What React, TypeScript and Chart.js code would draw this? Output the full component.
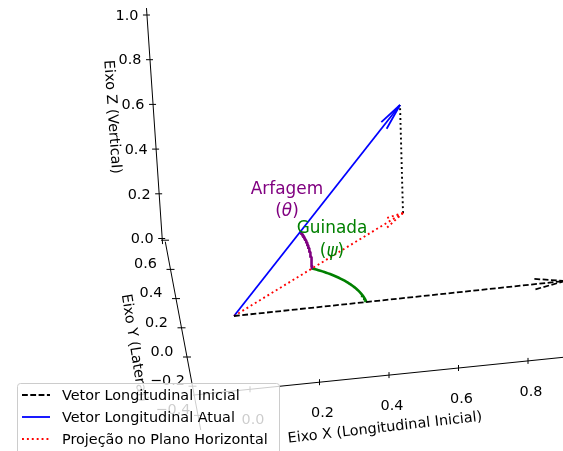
import React, { useEffect, useRef } from 'react';
import { Chart, registerables } from 'chart.js';

Chart.register(...registerables);

// ---------- values ----------
const PITCH_DEG = 30; // Arfagem (θ)
const YAW_DEG = 45; // Guinada (ψ)
const ORIGIN = [0, 0, 0];
const INITIAL_VECTOR = [1, 0, 0];
const ARC_RADIUS = 0.4;
const ARROW_LENGTH_RATIO = 0.1;

const SERIES_LABELS = ['Vetor Longitudinal Inicial', 'Vetor Longitudinal Atual', 'Projeção no Plano Horizontal'];
const ANGLE_NAMES = ['Arfagem', 'Guinada'];
const ANGLE_SYMBOLS = ['θ', 'ψ'];
const AXIS_TITLES = ['Eixo X (Longitudinal Inicial)', 'Eixo Y (Lateral)', 'Eixo Z (Vertical)'];

const X_TICKS = [0, 0.2, 0.4, 0.6, 0.8];
const X_TICK_LABELS = ['0.0', '0.2', '0.4', '0.6', '0.8'];
const Y_TICKS = [-0.4, -0.2, 0, 0.2, 0.4, 0.6, 0.8];
const Y_TICK_LABELS = ['−0.4', '−0.2', '0.0', '0.2', '0.4', '0.6', ''];
const Z_TICKS = [0, 0.2, 0.4, 0.6, 0.8, 1.0];
const Z_TICK_LABELS = ['0.0', '0.2', '0.4', '0.6', '0.8', '1.0'];

// ---------- layout (projection of the 3D scene onto the plane) ----------
const W = 563;
const H = 451;
const FONT = '"DejaVu Sans", "Liberation Sans", sans-serif';
const SMALL = 14.4;
const BIG = 16.9;
const VIEW = { o: [234, 316], ex: [331, -35], ey: [-55, -133.2], ez: [-6, -216] };
const AXES = [
  { o: [250, 389.3], d: [347.5, -35.5], span: [-0.164, 0.96], tick: [[0, -3], [0, 3]], label: [3, 31], ticks: X_TICKS, labels: X_TICK_LABELS,
    title: { c: [385, 428], rot: -6.5 } },
  { o: [187, 357], d: [-27.5, -146], span: [-0.5, 0.79], tick: [[-4, 0], [4, 0]], label: [-25, -5], ticks: Y_TICKS, labels: Y_TICK_LABELS,
    title: { c: [134, 348], rot: 81 } },
  { o: [162.2, 238.5], d: [-15.25, -223.5], span: [-0.025, 1.031], tick: [[-4, 0], [3, 0]], label: [-20, 1], ticks: Z_TICKS, labels: Z_TICK_LABELS,
    title: { c: [112, 117], rot: 86 } },
];
const ANNOTATIONS = [
  { c: [287, 189], gap: 23, color: '#800080' },
  { c: [332, 228], gap: 24, color: '#008000' },
];
const LEGEND = { x: 17.5, y: 383.5, w: 262, h: 80, sampleX: [22, 50], textX: 62, rows: [395, 417, 439], baselines: [400, 422, 444] };

function project(p: number[]) {
  return {
    x: VIEW.o[0] + p[0] * VIEW.ex[0] + p[1] * VIEW.ey[0] + p[2] * VIEW.ez[0],
    y: VIEW.o[1] + p[0] * VIEW.ex[1] + p[1] * VIEW.ey[1] + p[2] * VIEW.ez[1],
  };
}

const rad = (d: number) => (d * Math.PI) / 180;
const add = (a: number[], b: number[]) => [a[0] + b[0], a[1] + b[1], a[2] + b[2]];
const scale = (a: number[], s: number) => [a[0] * s, a[1] * s, a[2] * s];

// matplotlib-style quiver heads: rotate the shaft by ±15° around a horizontal axis
function arrowHeads(tail: number[], vec: number[]) {
  const tip = add(tail, vec);
  const n = Math.hypot(vec[0], vec[1]);
  const k = n ? [vec[1] / n, -vec[0] / n, 0] : [0, 1, 0];
  const heads: number[][][] = [];
  [1, -1].forEach((sg) => {
    const a = rad(15) * sg;
    const c = Math.cos(a), s = Math.sin(a);
    const cross = [k[1] * vec[2] - k[2] * vec[1], k[2] * vec[0] - k[0] * vec[2], k[0] * vec[1] - k[1] * vec[0]];
    const dot = k[0] * vec[0] + k[1] * vec[1] + k[2] * vec[2];
    const r = [0, 1, 2].map((i) => vec[i] * c + cross[i] * s + k[i] * dot * (1 - c));
    heads.push([tip, add(tip, scale(r, -ARROW_LENGTH_RATIO))]);
  });
  return heads;
}

export default function App() {
  const ref = useRef<HTMLCanvasElement | null>(null);

  useEffect(() => {
    const th = rad(PITCH_DEG);
    const ps = rad(YAW_DEG);
    const current = [Math.cos(th) * Math.cos(ps), Math.cos(th) * Math.sin(ps), Math.sin(th)];
    const horizontal = [current[0], current[1], 0];

    const yawArc: number[][] = [];
    const pitchArc: number[][] = [];
    const N = 40;
    for (let i = 0; i <= N; i++) {
      const t = (ps * i) / N;
      yawArc.push([ARC_RADIUS * Math.cos(t), ARC_RADIUS * Math.sin(t), 0]);
      const s = (th * i) / N;
      pitchArc.push([ARC_RADIUS * Math.cos(s) * Math.cos(ps), ARC_RADIUS * Math.cos(s) * Math.sin(ps), ARC_RADIUS * Math.sin(s)]);
    }

    const line = (pts: number[][], color: string, width: number, dash: number[] = []) => ({
      data: pts.map(project),
      showLine: true,
      borderColor: color,
      backgroundColor: color,
      borderWidth: width,
      borderDash: dash,
      borderCapStyle: 'butt',
      pointRadius: 0,
      tension: 0,
      fill: false,
    });

    const dashed = [5.8, 2.5];
    const dotted = [1.9, 3.0];
    const datasets: any[] = [];
    datasets.push(line([ORIGIN, add(ORIGIN, INITIAL_VECTOR)], '#000000', 1.8, dashed));
    arrowHeads(ORIGIN, INITIAL_VECTOR).forEach((h) => datasets.push(line(h, '#000000', 1.8, dashed)));
    datasets.push(line([ORIGIN, horizontal], '#ff0000', 1.9, dotted));
    arrowHeads(ORIGIN, horizontal).forEach((h) => datasets.push(line(h, '#ff0000', 1.9, dotted)));
    datasets.push(line([horizontal, current], '#000000', 1.9, dotted));
    datasets.push(line([ORIGIN, current], '#0000ff', 1.8));
    arrowHeads(ORIGIN, current).forEach((h) => datasets.push(line(h, '#0000ff', 1.8)));
    datasets.push(line(pitchArc, '#800080', 2.6));
    datasets.push(line(yawArc, '#008000', 2.6));

    const toPx = (chart: any, p: number[]) => ({
      x: chart.scales.x.getPixelForValue(p[0]),
      y: chart.scales.y.getPixelForValue(p[1]),
    });

    const axesPlugin = {
      id: 'axes3d',
      beforeDatasetsDraw(chart: any) {
        const ctx = chart.ctx;
        ctx.save();
        ctx.strokeStyle = '#000000';
        ctx.fillStyle = '#000000';
        ctx.lineWidth = 1;
        ctx.font = `${SMALL}px ${FONT}`;
        ctx.textAlign = 'center';
        ctx.textBaseline = 'middle';
        AXES.forEach((ax, ai) => {
          const at = (v: number) => [ax.o[0] + v * ax.d[0], ax.o[1] + v * ax.d[1]];
          const a = toPx(chart, at(ax.span[0]));
          const b = toPx(chart, at(ax.span[1]));
          ctx.beginPath();
          ctx.moveTo(a.x, a.y);
          ctx.lineTo(b.x, b.y);
          ctx.stroke();
          ax.ticks.forEach((v, i) => {
            const p = at(v);
            const t0 = toPx(chart, [p[0] + ax.tick[0][0], p[1] + ax.tick[0][1]]);
            const t1 = toPx(chart, [p[0] + ax.tick[1][0], p[1] + ax.tick[1][1]]);
            ctx.beginPath();
            ctx.moveTo(t0.x, t0.y);
            ctx.lineTo(t1.x, t1.y);
            ctx.stroke();
            const lp = toPx(chart, [p[0] + ax.label[0], p[1] + ax.label[1]]);
            if (ax.labels[i]) ctx.fillText(ax.labels[i], lp.x, lp.y);
          });
          const c = toPx(chart, ax.title.c);
          ctx.save();
          ctx.translate(c.x, c.y);
          ctx.rotate(rad(ax.title.rot));
          ctx.fillText(AXIS_TITLES[ai], 0, 0);
          ctx.restore();
        });
        ctx.restore();
      },
    };

    const textPlugin = {
      id: 'angleText',
      afterDatasetsDraw(chart: any) {
        const ctx = chart.ctx;
        ctx.save();
        ctx.textBaseline = 'middle';
        ANNOTATIONS.forEach((an, i) => {
          const c = toPx(chart, an.c);
          ctx.fillStyle = an.color;
          ctx.font = `${BIG}px ${FONT}`;
          ctx.textAlign = 'center';
          ctx.fillText(ANGLE_NAMES[i], c.x, c.y + 1);
          const y2 = c.y + an.gap;
          const regular = `${BIG}px ${FONT}`;
          const italic = `italic ${BIG}px ${FONT}`;
          ctx.font = regular;
          const wp = ctx.measureText('(').width;
          const wq = ctx.measureText(')').width;
          ctx.font = italic;
          const ws = ctx.measureText(ANGLE_SYMBOLS[i]).width;
          let x = c.x - (wp + ws + wq) / 2;
          ctx.textAlign = 'left';
          ctx.font = regular;
          ctx.fillText('(', x, y2);
          x += wp;
          ctx.font = italic;
          ctx.fillText(ANGLE_SYMBOLS[i], x, y2);
          x += ws;
          ctx.font = regular;
          ctx.fillText(')', x, y2);
        });
        ctx.restore();
      },
    };

    const legendStyles = [
      { color: '#000000', dash: dashed, width: 1.8 },
      { color: '#0000ff', dash: [], width: 1.8 },
      { color: '#ff0000', dash: dotted, width: 1.9 },
    ];

    const legendPlugin = {
      id: 'legendBox',
      afterDraw(chart: any) {
        const ctx = chart.ctx;
        ctx.save();
        ctx.beginPath();
        ctx.roundRect(LEGEND.x, LEGEND.y, LEGEND.w, LEGEND.h, 3);
        ctx.fillStyle = 'rgba(255,255,255,0.8)';
        ctx.fill();
        ctx.strokeStyle = '#cccccc';
        ctx.lineWidth = 1;
        ctx.stroke();
        ctx.font = `${SMALL}px ${FONT}`;
        ctx.textAlign = 'left';
        ctx.textBaseline = 'alphabetic';
        SERIES_LABELS.forEach((lab, i) => {
          const st = legendStyles[i];
          ctx.beginPath();
          ctx.setLineDash(st.dash);
          ctx.lineCap = 'butt';
          ctx.strokeStyle = st.color;
          ctx.lineWidth = st.width;
          ctx.moveTo(LEGEND.sampleX[0], LEGEND.rows[i]);
          ctx.lineTo(LEGEND.sampleX[1], LEGEND.rows[i]);
          ctx.stroke();
          ctx.setLineDash([]);
          ctx.fillStyle = '#000000';
          ctx.fillText(lab, LEGEND.textX, LEGEND.baselines[i]);
        });
        ctx.restore();
      },
    };

    const chart = new Chart(ref.current as HTMLCanvasElement, {
      type: 'scatter',
      data: { datasets },
      options: {
        animation: false,
        responsive: false,
        devicePixelRatio: 1,
        layout: { padding: 0 },
        scales: {
          x: { type: 'linear', min: 0, max: W, display: false },
          y: { type: 'linear', min: 0, max: H, reverse: true, display: false },
        },
        plugins: { legend: { display: false }, tooltip: { enabled: false } },
      },
      plugins: [axesPlugin, textPlugin, legendPlugin],
    } as any);
    return () => chart.destroy();
  }, []);

  return (
    <div style={{ position: 'absolute', left: 0, top: 0, width: W, height: H, background: '#ffffff' }}>
      <canvas ref={ref} width={W} height={H} style={{ display: 'block' }} />
    </div>
  );
}
